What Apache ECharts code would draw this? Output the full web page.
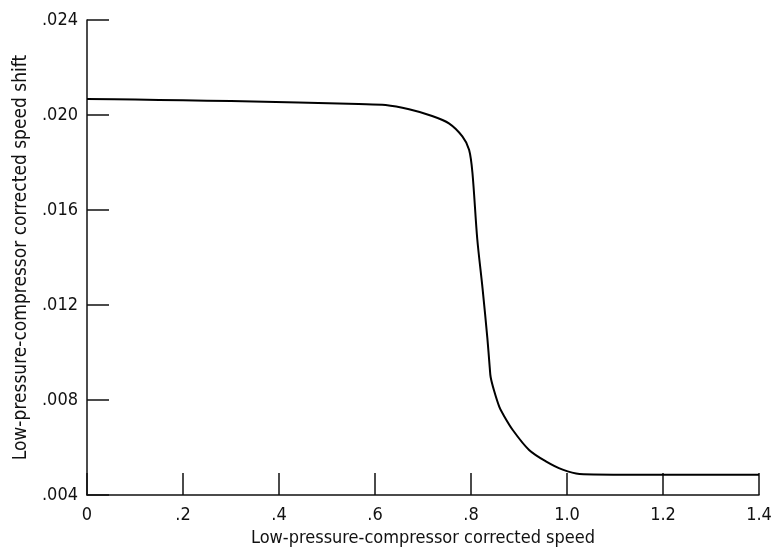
<!DOCTYPE html>
<html><head><meta charset="utf-8">
<script src="https://cdn.jsdelivr.net/npm/echarts@6/dist/echarts.min.js"></script>
<style>html,body{margin:0;padding:0;background:#fff}#c{width:776px;height:552px}</style>
</head><body><div id="c"></div>
<script>
const speed = [0, 0.1, 0.2, 0.3, 0.44, 0.566, 0.622, 0.671, 0.719, 0.754, 0.782, 0.796, 0.803, 0.813, 0.824, 0.834, 0.839, 0.841, 0.848, 0.859, 0.866, 0.887, 0.921, 0.956, 0.991, 1.026, 1.13, 1.4];
const shift = [0.02067, 0.02065, 0.02062, 0.02059, 0.02053, 0.02046, 0.02042, 0.02024, 0.01996, 0.01965, 0.0191, 0.01854, 0.01757, 0.01479, 0.01271, 0.01063, 0.00938, 0.00896, 0.0084, 0.00771, 0.00743, 0.00674, 0.0059, 0.00542, 0.00507, 0.00489, 0.00486, 0.00486];
const xTickLabels = ['0', '.2', '.4', '.6', '.8', '1.0', '1.2', '1.4'];
const yTickLabels = ['.004', '.008', '.012', '.016', '.020', '.024'];
const xName = 'Low-pressure-compressor corrected speed';
const yName = 'Low-pressure-compressor corrected speed shift';

const font = '"DejaVu Sans Condensed", "Liberation Sans Narrow", sans-serif';
const chart = echarts.init(document.getElementById('c'), null, {renderer: 'canvas'});
chart.setOption({
  animation: false,
  backgroundColor: '#fff',
  grid: {left: 87, right: 17, top: 20, bottom: 53, containLabel: false},
  xAxis: {
    type: 'value', min: 0, max: 1.4, interval: 0.2,
    name: xName, nameLocation: 'middle', nameGap: 32,
    nameTextStyle: {fontFamily: font, fontSize: 18, color: '#111'},
    axisLine: {show: true, lineStyle: {color: '#111', width: 1.5}},
    axisTick: {show: true, inside: true, length: 22, lineStyle: {color: '#111', width: 1.5}},
    axisLabel: {margin: 11, fontFamily: font, fontSize: 18, color: '#111',
      formatter: (v) => xTickLabels[Math.round(v / 0.2)]},
    splitLine: {show: false}
  },
  yAxis: {
    type: 'value', min: 0.004, max: 0.024, interval: 0.004,
    name: yName, nameLocation: 'middle', nameGap: 56, nameRotate: 90,
    nameTextStyle: {fontFamily: font, fontSize: 19, color: '#111'},
    axisLine: {show: true, lineStyle: {color: '#111', width: 1.5}},
    axisTick: {show: true, inside: true, length: 22, lineStyle: {color: '#111', width: 1.5}},
    axisLabel: {margin: 9, fontFamily: font, fontSize: 18, color: '#111',
      formatter: (v) => yTickLabels[Math.round((v - 0.004) / 0.004)]},
    splitLine: {show: false}
  },
  series: [{
    type: 'line', data: speed.map((x, i) => [x, shift[i]]),
    showSymbol: false, smooth: 0.3,
    lineStyle: {color: '#000', width: 2, join: 'round'}
  }]
});
</script></body></html>
